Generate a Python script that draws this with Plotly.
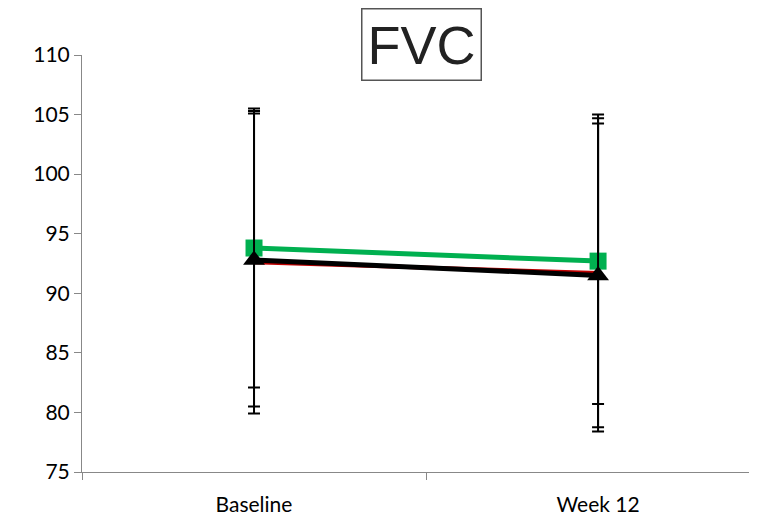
import plotly.graph_objects as go

categories = ["Baseline", "Week 12"]
red_vals = [92.6, 91.7]
red_err = [12.7, 13.3]
green_vals = [93.8, 92.7]
green_err = [11.7, 12.0]
black_vals = [92.8, 91.5]
black_err = [12.3, 12.75]
y_ticks = [75, 80, 85, 90, 95, 100, 105, 110]

fig = go.Figure()

def err(e):
    return dict(type="data", array=e, visible=True, color="black", thickness=2, width=6)

fig.add_trace(go.Scatter(x=categories, y=red_vals, mode="lines", line=dict(color="#C00000", width=4),
                         error_y=err(red_err), showlegend=False))
fig.add_trace(go.Scatter(x=categories, y=green_vals, mode="lines+markers", line=dict(color="#00B050", width=5),
                         marker=dict(symbol="square", size=17, color="#00B050"),
                         error_y=err(green_err), showlegend=False))
fig.add_trace(go.Scatter(x=categories, y=black_vals, mode="lines+markers", line=dict(color="black", width=5),
                         marker=dict(symbol="triangle-up", size=19, color="black"),
                         error_y=err(black_err), showlegend=False))

fig.update_layout(
    width=749, height=512,
    margin=dict(l=74, r=0, t=47, b=48),
    plot_bgcolor="white", paper_bgcolor="white",
    font=dict(family="Lato, Carlito, sans-serif", size=21, color="black"),
)
fig.add_annotation(text="FVC", xref="paper", yref="paper", x=0.503, y=1.024,
                   xanchor="center", yanchor="middle", showarrow=False,
                   font=dict(family="Liberation Sans, Arial", size=54, color="#222"),
                   bordercolor="#555", borderwidth=1.5, borderpad=5, bgcolor="white")

fig.update_xaxes(type="category", range=[-0.5, 1.462], showline=True, linecolor="#888", linewidth=1,
                 ticks="outside", tickson="boundaries", ticklen=7, tickcolor="#888", showgrid=False,
                 ticklabelstandoff=14)
fig.update_yaxes(range=[75, 110], tickvals=y_ticks, showline=True, linecolor="#888", linewidth=1,
                 ticks="outside", ticklen=7, tickcolor="#888", showgrid=False, zeroline=False)

fig.write_html("out.html")
